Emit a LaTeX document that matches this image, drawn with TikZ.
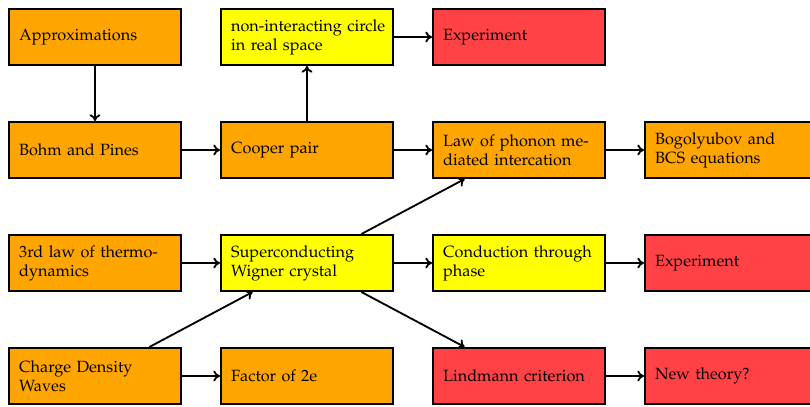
\documentclass[tikz,border=0pt]{standalone}
\usepackage[T1]{fontenc}
\usepackage{mathpazo}
\usetikzlibrary{arrows.meta}
\definecolor{boxorange}{RGB}{255,165,0}
\definecolor{boxyellow}{RGB}{255,255,0}
\definecolor{boxred}{RGB}{255,66,70}
\begin{document}
\begin{tikzpicture}[x=0.6pt,y=-0.6pt,
  box/.style={draw,line width=1.2pt,rectangle,minimum width=103.2pt,minimum height=33.6pt,
    text width=91pt,inner xsep=6.1pt,inner ysep=2pt,align=left,font=\fontsize{9.75}{11.4}\selectfont},
  obox/.style={box,fill=boxorange},
  ybox/.style={box,fill=boxyellow},
  rbox/.style={box,fill=boxred},
  arr/.style={-{To[length=4pt,width=6.5pt]},line width=1.1pt}]
\useasboundingbox (0,0) rectangle (810,407);
\clip (0,0) rectangle (810,407);
\node[obox] (approx) at (95,37) {Approximations};
\node[ybox] (circle) at (307,37) {\mbox{non-interacting circle}\\in real space};
\node[rbox] (exp1) at (519,37) {Experiment};
\node[obox] (bohm) at (95,150) {Bohm and Pines};
\node[obox] (cooper) at (307,150) {Cooper pair};
\node[obox] (law) at (519,150) {\mbox{Law of phonon me-}\\diated intercation};
\node[obox] (bogo) at (731,150) {Bogolyubov and\\BCS equations};
\node[obox] (third) at (95,263) {\mbox{3rd law of thermo-}\\dynamics};
\node[ybox] (wigner) at (307,263) {Superconducting\\Wigner crystal};
\node[ybox] (cond) at (519,263) {\mbox{Conduction through}\\phase};
\node[rbox] (exp2) at (731,263) {Experiment};
\node[obox] (cdw) at (95,376) {Charge Density\\Waves};
\node[obox] (factor) at (307,376) {Factor of 2e};
\node[rbox] (lind) at (519,376) {Lindmann criterion};
\node[rbox] (newth) at (731,376) {New theory?};
\draw[arr] (approx) -- (bohm);
\draw[arr] (bohm) -- (cooper);
\draw[arr] (cooper) -- (circle);
\draw[arr] (circle) -- (exp1);
\draw[arr] (cooper) -- (law);
\draw[arr] (law) -- (bogo);
\draw[arr] (third) -- (wigner);
\draw[arr] (wigner) -- (cond);
\draw[arr] (cond) -- (exp2);
\draw[arr] (wigner) -- (law);
\draw[arr] (wigner) -- (lind);
\draw[arr] (cdw) -- (wigner);
\draw[arr] (cdw) -- (factor);
\draw[arr] (lind) -- (newth);
\end{tikzpicture}
\end{document}
